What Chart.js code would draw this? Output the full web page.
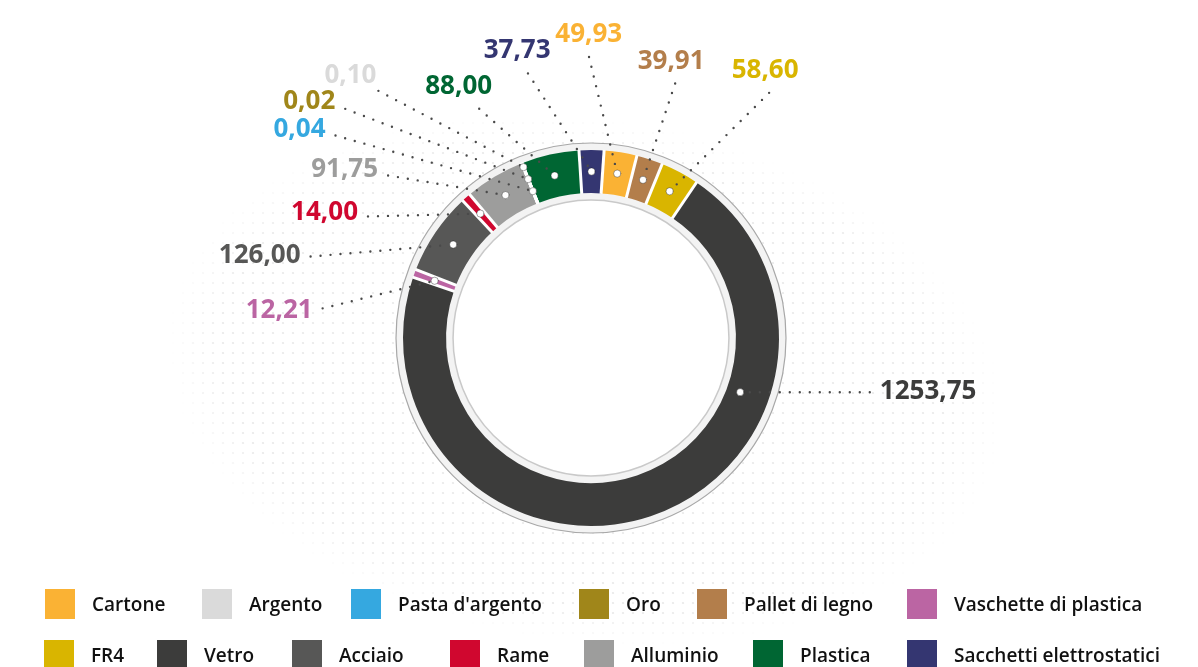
<!DOCTYPE html>
<html>
<head>
<meta charset="utf-8">
<script src="https://cdn.jsdelivr.net/npm/chart.js@4.4.0/dist/chart.umd.min.js"></script>
<style>
  html, body { margin: 0; padding: 0; background: #fff; }
  #wrap { position: relative; width: 1198px; height: 667px; overflow: hidden; }
  #chart1 { position: absolute; left: 0; top: 0; }
  .legend-item {
    position: absolute; height: 30px; display: flex; align-items: center;
    font-family: "Open Sans", Lato, sans-serif; font-weight: 600; font-size: 19px;
    color: #111; white-space: nowrap;
  }
  .legend-item .box { width: 30px; height: 30px; margin-right: 17px; flex: none; }
</style>
</head>
<body>
<div id="wrap">
  <canvas id="chart1" width="1198" height="667"></canvas>
  <div id="legend"></div>
</div>
<script>
// ring order, clockwise from the top
const categories = ['Cartone', 'Pallet di legno', 'FR4', 'Vetro', 'Vaschette di plastica', 'Acciaio', 'Rame',
    'Alluminio', "Pasta d'argento", 'Oro', 'Argento', 'Plastica', 'Sacchetti elettrostatici'];
const values = [49.93, 39.91, 58.60, 1253.75, 12.21, 126.00, 14.00, 91.75, 0.04, 0.02, 0.10, 88.00, 37.73];
const colours = ['#FAB234', '#B37E4B', '#D9B500', '#3C3C3B', '#BB65A3', '#575756', '#D0072F',
    '#9D9D9C', '#35A8E0', '#A0861A', '#DADADA', '#006633', '#343671'];

// where each callout ends: degrees clockwise from the top, distance from the centre
const labelAngle = [-0.4, 18.3, 36, 101, -83.7, -73.8, -61.4, -51.3, -51.6, -47, -40.7, -26, -13.4];
const labelDist = [281, 268, 303, 284, 270, 292, 254, 260, 326, 336, 326, 255, 272];

const legendRows = [
    ['Cartone', 'Argento', "Pasta d'argento", 'Oro', 'Pallet di legno', 'Vaschette di plastica'],
    ['FR4', 'Vetro', 'Acciaio', 'Rame', 'Alluminio', 'Plastica', 'Sacchetti elettrostatici']
];
const legendLeft = [[45, 202, 351, 579, 697, 907], [44, 157, 292, 450, 584, 753, 907]];
const legendTop = [589, 640];

const fmt = v => v.toFixed(2).replace('.', ',');

// light halftone blob, grey band behind the ring, separators, callouts
const ringDecor = {
    id: 'ringDecor',
    beforeDatasetsDraw(chart) {
        const ctx = chart.ctx;
        const arc = chart.getDatasetMeta(0).data[0];
        const {x, y, outerRadius, innerRadius} = arc;

        // dotted haze
        const ex = x - 6, ey = y + 42, rx = 420, ry = 262, rot = 8 * Math.PI / 180;
        const c = Math.cos(rot), s = Math.sin(rot);
        ctx.save();
        for (let gy = 3; gy < chart.height; gy += 10) {
            for (let gx = 3; gx < chart.width; gx += 10) {
                const dx = gx - ex, dy = gy - ey;
                const u = (dx * c + dy * s) / rx, v = (-dx * s + dy * c) / ry;
                const d = Math.sqrt(u * u + v * v);
                if (d >= 1) continue;
                const a = Math.min(1, (1 - d) * 8);
                ctx.fillStyle = 'rgba(200,200,200,' + (0.42 * a) + ')';
                ctx.beginPath();
                ctx.arc(gx, gy, 1.1, 0, Math.PI * 2);
                ctx.fill();
            }
        }

        // band
        ctx.beginPath();
        ctx.arc(x, y, outerRadius + 7, 0, Math.PI * 2);
        ctx.fillStyle = '#f3f3f3';
        ctx.fill();
        ctx.lineWidth = 1.2;
        ctx.strokeStyle = '#a8a8a8';
        ctx.stroke();
        ctx.beginPath();
        ctx.arc(x, y, innerRadius - 7, 0, Math.PI * 2);
        ctx.fillStyle = '#ffffff';
        ctx.fill();
        ctx.lineWidth = 1.5;
        ctx.strokeStyle = '#c9c9c9';
        ctx.stroke();
        ctx.restore();
    },
    afterDatasetsDraw(chart) {
        const ctx = chart.ctx;
        const arcs = chart.getDatasetMeta(0).data;
        const {x, y} = arcs[0];
        ctx.save();

        // white gaps between slices
        ctx.strokeStyle = '#ffffff';
        ctx.lineWidth = 3;
        arcs.forEach(a => {
            const t = a.startAngle;
            ctx.beginPath();
            ctx.moveTo(x + Math.cos(t) * (a.innerRadius - 0.5), y + Math.sin(t) * (a.innerRadius - 0.5));
            ctx.lineTo(x + Math.cos(t) * (a.outerRadius + 0.5), y + Math.sin(t) * (a.outerRadius + 0.5));
            ctx.stroke();
        });

        // anchor dots; very thin slices are stacked across the band,
        // a very wide slice gets its dot level with its label
        let tiny = 0;
        const anchors = arcs.map((a, i) => {
            const span = a.endAngle - a.startAngle;
            const mid = (a.startAngle + a.endAngle) / 2;
            let r = (a.innerRadius + a.outerRadius) / 2;
            if (span < 0.01) {
                tiny++;
                r = a.innerRadius + (a.outerRadius - a.innerRadius) * 0.3 * tiny;
            } else if (span > Math.PI) {
                r = a.innerRadius + (a.outerRadius - a.innerRadius) * 0.32;
                const th = labelAngle[i] * Math.PI / 180;
                const dy = -Math.cos(th) * labelDist[i];
                const dx = Math.sign(Math.sin(th)) * Math.sqrt(Math.max(0, r * r - dy * dy));
                return {x: x + dx, y: y + dy};
            }
            return {x: x + Math.cos(mid) * r, y: y + Math.sin(mid) * r};
        });

        ctx.font = 'bold 26px "Open Sans", Lato, sans-serif';
        arcs.forEach((a, i) => {
            const th = labelAngle[i] * Math.PI / 180;
            const lx = x + Math.sin(th) * labelDist[i];
            const ly = y - Math.cos(th) * labelDist[i];

            ctx.setLineDash([0, 10]);
            ctx.lineCap = 'round';
            ctx.lineWidth = 2.4;
            ctx.strokeStyle = '#4a4a4a';
            ctx.beginPath();
            ctx.moveTo(lx, ly);
            ctx.lineTo(anchors[i].x, anchors[i].y);
            ctx.stroke();
            ctx.setLineDash([]);

            const text = fmt(values[i]);
            const w = ctx.measureText(text).width;
            const deg = labelAngle[i];
            let tx, ty;
            if (deg > 37) {
                tx = lx + 10; ty = ly - 1;
                ctx.textAlign = 'left'; ctx.textBaseline = 'middle';
            } else if (deg >= -37) {
                tx = lx + (deg < 0 ? 0.7 * w * Math.sin(th) : -4); ty = ly - 15;
                ctx.textAlign = 'center'; ctx.textBaseline = 'alphabetic';
            } else if (deg >= -45) {
                tx = lx - 2; ty = ly - 8;
                ctx.textAlign = 'right'; ctx.textBaseline = 'alphabetic';
            } else {
                tx = lx - 10; ty = ly - 16 * Math.cos(th) + 4;
                ctx.textAlign = 'right'; ctx.textBaseline = 'middle';
            }
            ctx.fillStyle = colours[i];
            ctx.fillText(text, tx, ty);
        });

        anchors.forEach(p => {
            ctx.beginPath();
            ctx.arc(p.x, p.y, 3.6, 0, Math.PI * 2);
            ctx.fillStyle = '#ffffff';
            ctx.fill();
            ctx.lineWidth = 1;
            ctx.strokeStyle = 'rgba(0,0,0,0.35)';
            ctx.stroke();
        });
        ctx.restore();
    }
};

const ctx1 = document.getElementById('chart1');
const myChart = new Chart(ctx1, {
    type: 'doughnut',
    data: {
        labels: categories,
        datasets: [{
            data: values,
            backgroundColor: colours,
            borderWidth: 0
        }]
    },
    options: {
        responsive: false,
        animation: false,
        rotation: 4,
        cutout: '77.1%',
        layout: {
            padding: {top: 150, bottom: 141, left: 0, right: 16}
        },
        plugins: {
            legend: {display: false},
            tooltip: {enabled: false}
        }
    },
    plugins: [ringDecor]
});

// legend under the chart
const legend = document.getElementById('legend');
legendRows.forEach((row, r) => {
    row.forEach((name, k) => {
        const item = document.createElement('div');
        item.className = 'legend-item';
        item.style.left = legendLeft[r][k] + 'px';
        item.style.top = legendTop[r] + 'px';
        const box = document.createElement('span');
        box.className = 'box';
        box.style.background = colours[categories.indexOf(name)];
        item.appendChild(box);
        item.appendChild(document.createTextNode(name));
        legend.appendChild(item);
    });
});
</script>
</body>
</html>
